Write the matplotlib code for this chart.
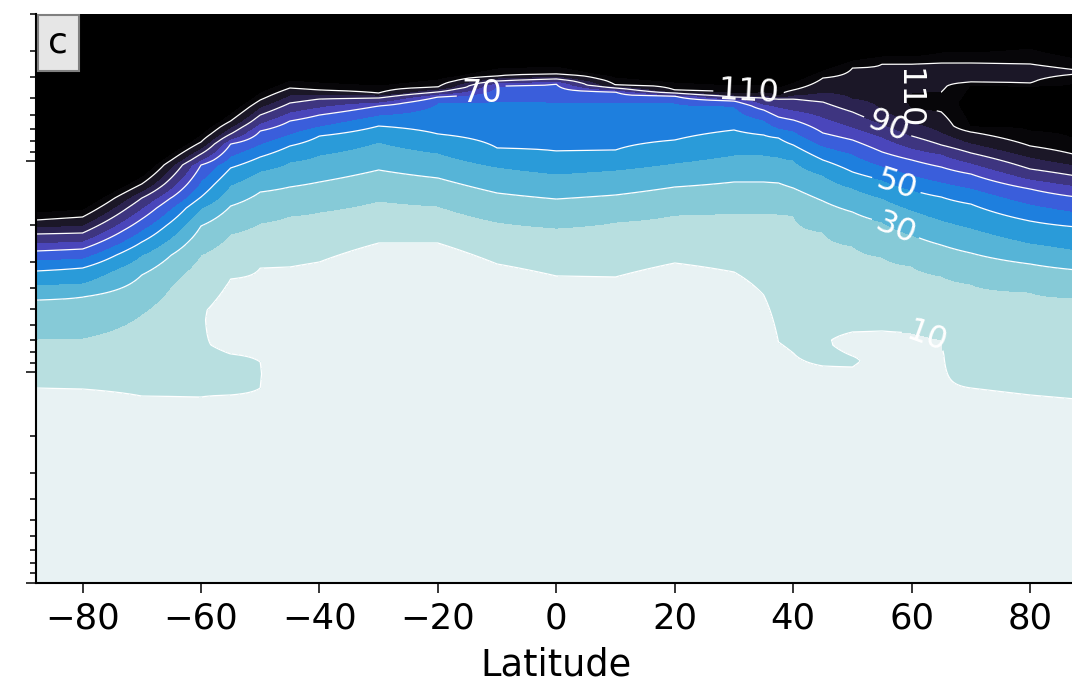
import numpy as np
import matplotlib
matplotlib.use('Agg')
import matplotlib.pyplot as plt
from matplotlib.colors import ListedColormap, BoundaryNorm

lat = [-87.86, -80, -70, -60, -55, -50, -45, -40, -30, -20, -10, 0, 10,
       20, 30, 35, 37.5, 40, 45, 50, 55, 60, 65, 70, 80, 87.86]

# pressure (hPa) at which each level is crossed, per latitude column
p120 = [17.39, 16.83, 11.74, 7.416, 5.897, 4.689, 4.113, 4.204, 4.344, 4.068, 3.608, 3.530, 3.980,
        4.204, 4.344, 4.297, 4.440, 4.204, 3.687, 3.305, 3.164, 3.164, 3.029, 3.029, 2.899, 3.234]
p110 = [18.98, 18.36, 12.80, 8.093, 6.436, 5.117, 4.489, 4.588, 4.741, 4.440, 3.937, 3.852, 4.344,
        4.588, 4.741, 4.689, 4.845, 4.588, 4.024, 3.608, 3.453, 3.453, 5.833, 7.256, 8.454, 9.327]
p100 = [20.48, 20.04, 13.83, 8.641, 6.871, 5.523, 4.845, 4.793, 4.845, 4.538, 4.024, 3.937, 4.392,
        4.689, 4.845, 4.845, 4.952, 4.845, 4.689, 5.006, 5.707, 6.506, 7.256, 8.182, 9.533, 10.41]
p90 = [22.11, 21.87, 14.93, 9.226, 7.416, 6.028, 5.287, 5.061, 5.006, 4.689, 4.158, 4.068, 4.489,
       4.741, 4.952, 5.006, 5.061, 5.061, 5.230, 5.833, 6.650, 7.580, 8.362, 9.126, 10.87, 11.74]
p80 = [24.40, 23.87, 16.65, 9.853, 7.832, 6.578, 5.833, 5.523, 5.230, 4.793, 4.250, 4.158, 4.588,
       4.845, 5.061, 5.345, 5.523, 5.707, 6.161, 6.871, 7.663, 8.641, 9.226, 10.18, 12.13, 13.09]
p70 = [26.62, 26.05, 18.77, 10.41, 8.271, 7.178, 6.436, 6.028, 5.463, 4.952, 4.392, 4.297, 4.689,
       4.898, 5.173, 5.707, 6.161, 6.366, 7.336, 7.918, 9.027, 9.853, 10.64, 11.48, 13.52, 14.76]
p60 = [29.38, 28.74, 21.16, 12.39, 9.430, 8.271, 7.416, 6.797, 6.028, 5.287, 5.173, 5.230, 5.230,
       5.287, 5.463, 6.366, 6.947, 7.178, 8.454, 9.226, 10.52, 11.61, 12.53, 13.38, 15.94, 17.39]
p50 = [33.12, 32.05, 24.13, 14.76, 10.75, 9.533, 8.454, 7.580, 6.797, 7.416, 8.641, 8.929, 8.832,
       7.918, 7.100, 7.498, 7.747, 8.362, 9.853, 11.23, 12.26, 13.68, 14.76, 15.94, 19.19, 20.48]
p40 = [38.59, 37.75, 27.81, 16.65, 12.95, 11.11, 10.07, 9.327, 8.093, 9.126, 10.64, 11.48, 10.99,
       10.18, 9.327, 9.327, 9.533, 9.853, 11.61, 13.38, 14.93, 17.01, 18.98, 20.71, 24.40, 26.34]
p30 = [45.47, 44.00, 34.59, 20.26, 16.29, 13.98, 13.23, 12.53, 10.99, 11.99, 14.13, 15.09, 14.44,
       13.23, 12.53, 12.53, 12.66, 13.38, 15.42, 17.39, 19.40, 22.35, 24.94, 27.21, 30.68, 32.75]
p20 = [69.61, 68.85, 52.97, 27.81, 22.11, 19.61, 18.16, 17.39, 15.42, 16.29, 19.40, 20.71, 19.40,
       17.97, 17.58, 17.58, 17.77, 17.97, 21.63, 25.21, 28.43, 31.36, 34.97, 38.17, 41.66, 44.49]
p10 = [118.9, 120.2, 129.8, 131.2, 128.3, 118.9, 31.70, 30.02, 24.40, 24.40, 30.68, 34.97, 35.35,
       30.35, 33.48, 43.05, 71.93, 81.11, 93.47, 94.50, 63.79, 65.20, 70.37, 118.9, 128.3, 134.1]

# extra (pressure, value) points where a column is not monotonic
knots_m60 = [(99.82, 12), (74.32, 10.4), (50.70, 10.6), (38.59, 13)]
knots_m55 = [(103.1, 14), (82.00, 10), (56.56, 7), (36.14, 10)]
knots_m50 = [(102.0, 11), (89.49, 10), (56.56, 7), (32.05, 10)]
knots_45 = [(82.90, 12), (70.37, 10.5), (50.70, 12.5)]
knots_50 = [(88.52, 11.5), (83.81, 10), (74.32, 8), (64.49, 10)]
knots_60 = [(5.584, 110), (5.173, 111.5), (4.793, 110), (4.024, 106)]
knots_65 = [(115.1, 9.6), (82.90, 9.7), (5.230, 113), (4.689, 110), (3.980, 104), (3.416, 110)]
knots_70 = [(6.797, 120), (5.404, 125), (4.392, 120), (4.204, 110), (3.810, 102), (3.416, 110)]
knots_80 = [(7.100, 120), (5.404, 125), (4.440, 120), (4.250, 110), (3.810, 103), (3.453, 110)]
knots_88 = [(7.918, 120), (5.707, 125), (4.113, 120), (3.852, 110), (3.769, 108), (3.687, 110)]
extra = {-60: knots_m60, -55: knots_m55, -50: knots_m50, 45: knots_45, 50: knots_50,
         60: knots_60, 65: knots_65, 70: knots_70, 80: knots_80, 87.86: knots_88}

levels = [-1e4, 10, 20, 30, 40, 50, 60, 70, 80, 90, 100, 110, 120]
colors = ['#e8f2f3', '#b8dfe0', '#86cad7', '#56b4d7', '#2a9bd9', '#1e7fde',
          '#3a5edb', '#4a46bb', '#3e3580', '#2b2350', '#1b1727', '#070609']

backbone = [(p120, 120), (p110, 110), (p100, 100), (p90, 90), (p80, 80), (p70, 70),
            (p60, 60), (p50, 50), (p40, 40), (p30, 30), (p20, 20), (p10, 10)]

pgrid = np.geomspace(1000, 2, 800)
hgrid = -np.log10(pgrid)
Z = np.zeros((len(pgrid), len(lat)))
for j, la in enumerate(lat):
    pts = [(arr[j], v) for arr, v in backbone] + extra.get(la, [])
    pts.sort(key=lambda t: -t[0])
    h = list(-np.log10([q for q, _ in pts]))
    v = [w for _, w in pts]
    # carry the end gradients on to the bottom and top of the column
    vb = v[0] + (v[1] - v[0]) / (h[1] - h[0]) * (hgrid[0] - h[0])
    vt = v[-1] + (v[-1] - v[-2]) / (h[-1] - h[-2]) * (hgrid[-1] - h[-1])
    Z[:, j] = np.interp(hgrid, [hgrid[0]] + h + [hgrid[-1]], [vb] + v + [vt])

fig = plt.figure(figsize=(10.72, 6.86), dpi=100)
ax = fig.add_axes([0.03358, 0.15015, 0.9708, 0.82945])
ax.set_yscale('log')
ax.set_ylim(1000, 2)
ax.set_xlim(-87.86, 87.86)

cmap = ListedColormap(colors)
cmap.set_over('#000000')
norm = BoundaryNorm(levels, cmap.N)
ax.contourf(lat, pgrid, Z, levels=levels, cmap=cmap, norm=norm, extend='max')
cs = ax.contour(lat, pgrid, Z, levels=[10, 30, 50, 70, 90, 110], colors='white', linewidths=0.9)
labels = ax.clabel(cs, fmt='%d', fontsize=23, inline=True,
                   manual=[(-12.5, 4.85), (32.5, 4.59), (59, 5.0), (56.1, 6.65),
                           (57.6, 12.5), (57.3, 20.7), (62.7, 65.2)])
for t in labels:
    if t.get_text() == '70':
        t.set_rotation(0)
    if t.get_text() == '110' and t.get_position()[0] > 45:
        t.set_rotation(-90)

ax.set_yticklabels([])
ax.set_yticklabels([], minor=True)
ax.set_xticks(np.arange(-80, 81, 20))
ax.tick_params(axis='x', labelsize=25.5, length=7, width=1.1, pad=6)
ax.tick_params(axis='y', which='major', length=7, width=1.1)
ax.tick_params(axis='y', which='minor', length=4, width=1.1)
ax.set_xlabel('Latitude', fontsize=26.5, labelpad=8)
for s in ['top', 'right']:
    ax.spines[s].set_visible(False)
for s in ['left', 'bottom']:
    ax.spines[s].set_linewidth(1.5)

ax.text(0.012, 0.979, 'c', transform=ax.transAxes, fontsize=26, ha='left', va='top',
        bbox=dict(boxstyle='square,pad=0.3', fc='#e6e6e6', ec='#808080', lw=1.5))

fig.savefig('out.png', dpi=100)
